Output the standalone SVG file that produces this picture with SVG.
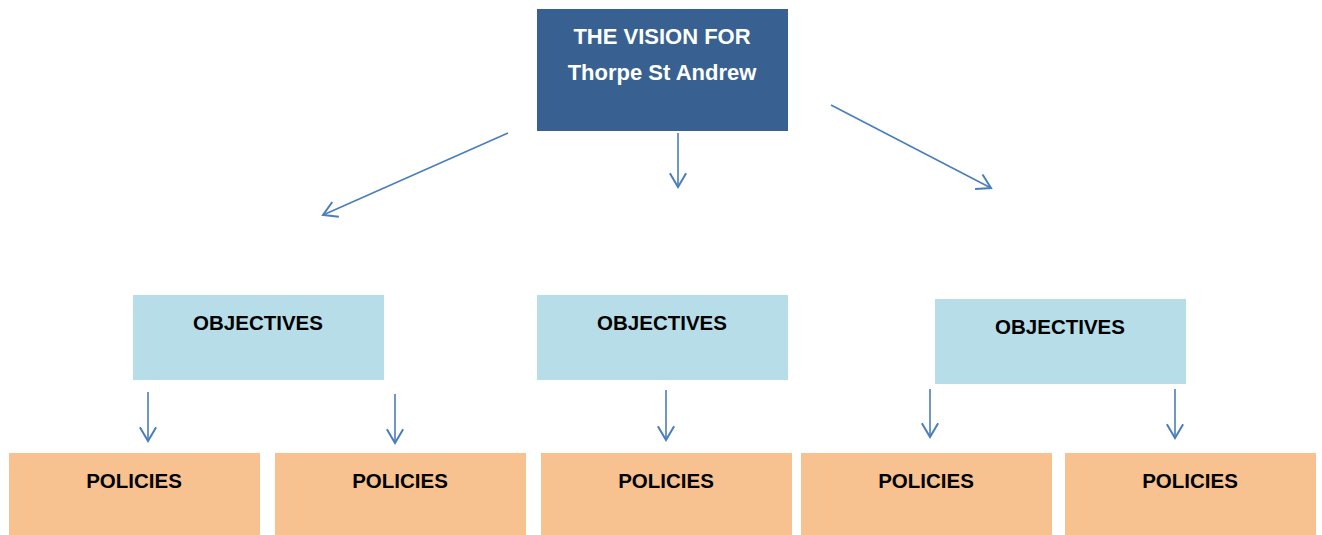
<svg xmlns="http://www.w3.org/2000/svg" width="1322" height="535" viewBox="0 0 1322 535">
<style>
.vision{fill:#386192}
.obj{fill:#b7dde8}
.pol{fill:#f8c290}
text{font-family:"Liberation Sans",Arial,sans-serif;font-weight:bold;text-anchor:middle}
.wt{fill:#ffffff;font-size:22px}
.bt{fill:#000000;font-size:20.5px}
.conn line{stroke:#4a7ebb;stroke-width:1.6;fill:none;marker-end:url(#arr)}
</style>
<defs>
<marker id="arr" markerUnits="userSpaceOnUse" markerWidth="20" markerHeight="20" viewBox="-12 -8 14 16" refX="0" refY="0" orient="auto">
<path d="M-11,-6.5 L0,0 L-11,6.5" fill="none" stroke="#4a7ebb" stroke-width="1.6"/>
</marker>
</defs>
<rect width="1322" height="535" fill="#ffffff"/>
<g id="vision">
<rect class="vision" x="537" y="9" width="251" height="122"/>
<text class="wt" x="662" y="44">THE VISION FOR</text>
<text class="wt" x="662" y="80">Thorpe St Andrew</text>
</g>
<g id="obj1"><rect class="obj" x="133" y="295" width="251" height="85"/><text class="bt" x="258" y="330">OBJECTIVES</text></g>
<g id="obj2"><rect class="obj" x="537" y="295" width="251" height="85"/><text class="bt" x="662" y="330">OBJECTIVES</text></g>
<g id="obj3"><rect class="obj" x="935" y="299" width="251" height="85"/><text class="bt" x="1060" y="334">OBJECTIVES</text></g>
<g id="pol1"><rect class="pol" x="9" y="453" width="251" height="82"/><text class="bt" x="134" y="488">POLICIES</text></g>
<g id="pol2"><rect class="pol" x="275" y="453" width="251" height="82"/><text class="bt" x="400" y="488">POLICIES</text></g>
<g id="pol3"><rect class="pol" x="541" y="453" width="251" height="82"/><text class="bt" x="666" y="488">POLICIES</text></g>
<g id="pol4"><rect class="pol" x="801" y="453" width="251" height="82"/><text class="bt" x="926" y="488">POLICIES</text></g>
<g id="pol5"><rect class="pol" x="1065" y="453" width="251" height="82"/><text class="bt" x="1190" y="488">POLICIES</text></g>
<g id="connectors" class="conn">
<line x1="678" y1="133" x2="678" y2="187"/>
<line x1="508" y1="133" x2="323" y2="215"/>
<line x1="831" y1="105" x2="991" y2="188"/>
<line x1="148" y1="392" x2="148" y2="441"/>
<line x1="395" y1="394" x2="395" y2="443"/>
<line x1="666" y1="390" x2="666" y2="440"/>
<line x1="930" y1="389" x2="930" y2="437"/>
<line x1="1175" y1="389" x2="1175" y2="438"/>
</g>
</svg>
